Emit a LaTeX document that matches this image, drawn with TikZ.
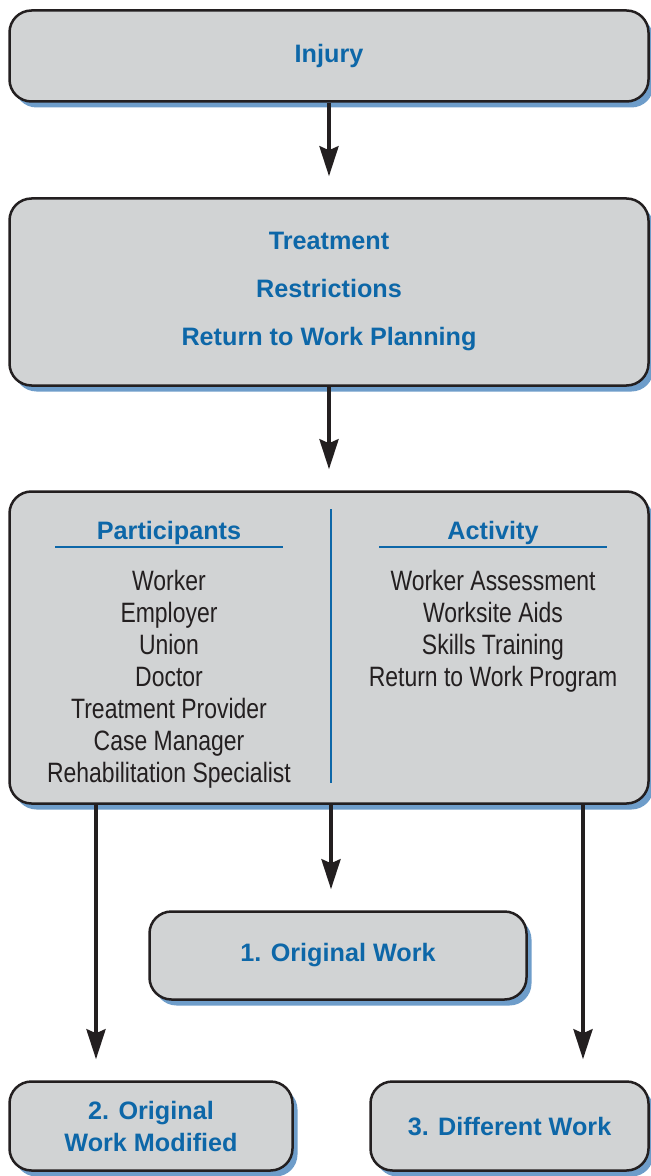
\documentclass[tikz,border=0pt]{standalone}
\usepackage{fontspec}
\setmainfont{Liberation Sans}
\newfontfamily\schmal[FakeStretch=0.82]{Liberation Sans}
\usetikzlibrary{arrows.meta,shadows}

\definecolor{kastengrau}{HTML}{D1D3D4}
\definecolor{textblau}{HTML}{0D67A8}
\definecolor{schattenblau}{HTML}{6E9DCA}
\definecolor{tinte}{HTML}{231F20}

\tikzset{
  kasten/.style={draw=tinte, line width=1.25pt, fill=kastengrau, rounded corners=11pt,
    drop shadow={shadow xshift=2.5pt, shadow yshift=-3pt, fill=schattenblau, opacity=1},
    text=textblau, font=\bfseries\fontsize{12.6}{16}\selectfont, align=center, inner sep=0pt},
  pfeil/.style={draw=tinte, line width=2pt, -{Stealth[length=15pt, width=9.5pt, inset=2pt]},
    shorten >=10.5pt},
  kopf/.style={text=textblau, font=\bfseries\fontsize{12.6}{16}\selectfont, inner sep=0pt, anchor=base},
  eintrag/.style={text=tinte, font=\schmal\fontsize{14}{16}\selectfont, inner sep=0pt, anchor=base},
}

\begin{document}
\begin{tikzpicture}[x=0.5pt, y=-0.5pt]
            \useasboundingbox (0,0) rectangle (651,1176);

            \node[kasten, minimum width=319.5pt, minimum height=45.5pt] (inj) at (329,56) {Injury};
            \node[kasten, minimum width=319.5pt, minimum height=93.5pt, font=\bfseries\fontsize{12.6}{24}\selectfont]
                (beh) at (329,292) {Treatment\\Restrictions\\Return to Work Planning};
            \node[kasten, minimum width=319.5pt, minimum height=156pt] (teil) at (329,647.5) {};
            \node[kasten, minimum width=188.5pt, minimum height=44pt] (orig) at (338,955.5) {1. Original Work};
            \node[kasten, minimum width=141.5pt, minimum height=44.5pt] (mod) at (151,1126) {2. Original\\Work Modified};
            \node[kasten, minimum width=139pt, minimum height=44.5pt] (neu) at (509.5,1126) {3. Different Work};

            % Spalten im grossen Kasten
            \draw[textblau, line width=1pt] (331,509) -- (331,783);
            \foreach \x in {55, 379} \draw[textblau, line width=1.3pt] (\x,547) -- (\x+228,547);
            \node[kopf] (hp) at (169,539) {Participants};
            \node[kopf] (ha) at (493,539) {Activity};

            \foreach \t [count=\i] in {Worker, Employer, Union, Doctor, Treatment Provider,
                Case Manager, Rehabilitation Specialist}
                \node[eintrag] (p\i) at (169,558+32*\i) {\t};
            \foreach \t [count=\i] in {Worker Assessment, Worksite Aids, Skills Training,
                Return to Work Program}
                \node[eintrag] (a\i) at (493,558+32*\i) {\t};

            % Pfeile
            \draw[pfeil] (inj.south) -- (beh.north);
            \draw[pfeil] (beh.south) -- (teil.north);
            \draw[pfeil] (teil.south -| 331,0) -- (orig.north -| 331,0);
            \draw[pfeil] (teil.south -| 96,0) -- (mod.north -| 96,0);
            \draw[pfeil] (teil.south -| 583,0) -- (neu.north -| 583,0);
        \end{tikzpicture}
\end{document}
